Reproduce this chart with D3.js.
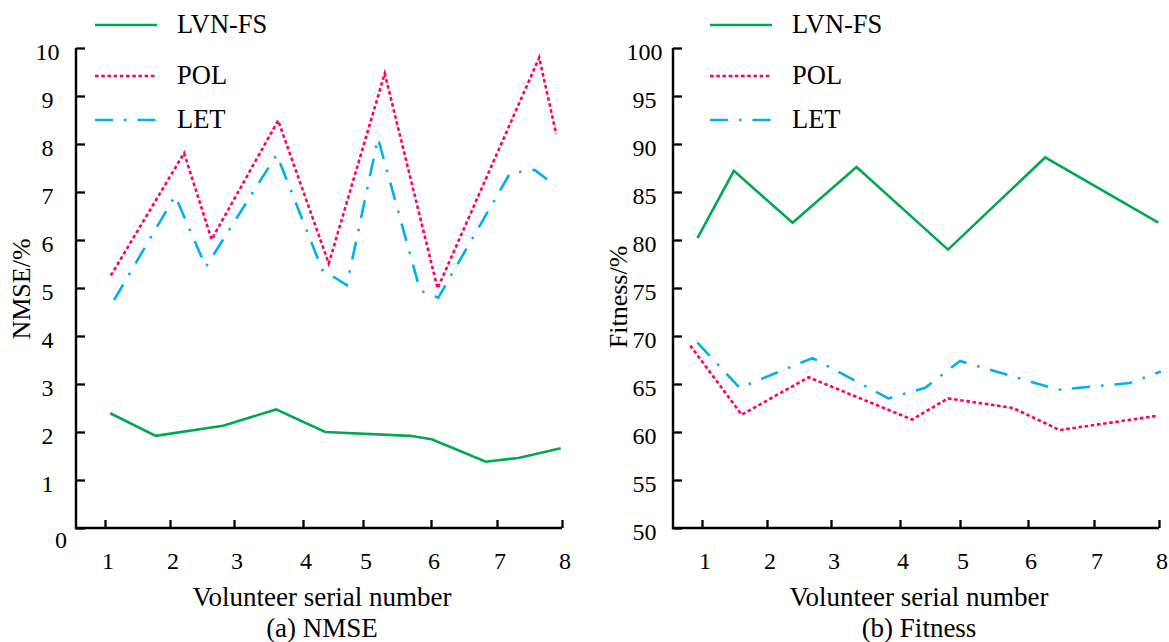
<!DOCTYPE html>
<html>
<head>
<meta charset="utf-8">
<script src="https://cdn.jsdelivr.net/npm/d3@7"></script>
<style>
  html, body { margin: 0; padding: 0; background: #fff; }
  svg { display: block; }
  text { font-family: "Liberation Serif", "Times New Roman", serif; fill: #000; }
</style>
</head>
<body>
<svg id="chart" width="1169" height="642"></svg>
<script>
// ---- data ----
const volunteers = [1, 2, 3, 4, 5, 6, 7, 8];
const nmseTicks = [0, 1, 2, 3, 4, 5, 6, 7, 8, 9, 10];
const fitnessTicks = [50, 55, 60, 65, 70, 75, 80, 85, 90, 95, 100];
const seriesNames = ["LVN-FS", "POL", "LET"];

// (a) NMSE, %
const nmseLvnX = [1.08, 1.78, 2.83, 3.61, 4.37, 5.69, 6.01, 6.83, 7.33, 7.98];
const nmseLvnY = [2.39, 1.92, 2.13, 2.47, 2.00, 1.92, 1.85, 1.38, 1.46, 1.66];
const nmsePolX = [1.09, 2.22, 2.65, 3.64, 4.43, 5.32, 6.10, 7.65, 7.91];
const nmsePolY = [5.26, 7.81, 6.01, 8.49, 5.51, 9.47, 4.99, 9.80, 8.21];
const nmseLetX = [1.14, 2.08, 2.56, 3.62, 4.32, 4.73, 5.22, 5.84, 6.11, 7.20, 7.58, 7.91];
const nmseLetY = [4.75, 6.92, 5.44, 7.78, 5.38, 5.06, 8.12, 4.95, 4.80, 7.39, 7.46, 7.12];

// (b) Fitness, %
const fitLvnX = [0.93, 1.49, 2.40, 3.37, 4.80, 6.26, 7.99];
const fitLvnY = [80.2, 87.2, 81.8, 87.6, 79.0, 88.6, 81.8];
const fitPolX = [0.82, 1.61, 2.65, 4.20, 4.80, 5.78, 6.48, 7.99];
const fitPolY = [69.0, 61.8, 65.7, 61.3, 63.5, 62.5, 60.2, 61.7];
const fitLetX = [0.93, 1.58, 2.71, 3.83, 4.42, 5.00, 6.46, 7.55, 8.03];
const fitLetY = [69.3, 64.6, 67.7, 63.5, 64.6, 67.4, 64.4, 65.1, 66.3];

// ---- styles ----
const styles = {
  "LVN-FS": { color: "#00A84F", dash: null, width: 2.6 },
  "POL":    { color: "#FF0066", dash: "3.6,2.6", width: 2.6 },
  "LET":    { color: "#00B0F0", dash: "18,11,2.5,11", width: 2.6 }
};

const svg = d3.select("#chart");
const font = "Liberation Serif";

// tick offsets along the horizontal axis (the volunteer ticks are not evenly spaced)
const tickOffsets = [29, 94, 158, 227, 287, 355, 421, 486];

function drawPanel(cfg) {
  const ox = cfg.originX, top = 48, bottom = 528, plotW = 486;
  const g = svg.append("g");

  const x = d3.scaleLinear().domain(volunteers).range(tickOffsets.map(o => ox + o));
  const y = d3.scaleLinear().domain([cfg.yTicks[0], cfg.yTicks[cfg.yTicks.length - 1]]).range([bottom, top]);

  // series lines
  const line = d3.line().x(d => x(d[0])).y(d => y(d[1])).curve(d3.curveLinear);
  cfg.series.forEach(s => {
    const st = styles[s.name];
    const pts = s.xs.map((v, i) => [v, s.ys[i]]);
    g.append("path")
      .attr("d", line(pts))
      .attr("fill", "none")
      .attr("stroke", st.color)
      .attr("stroke-width", st.width)
      .attr("stroke-linejoin", "miter")
      .attr("stroke-dasharray", st.dash);
  });

  // y axis (ticks pointing inward)
  const yAxis = d3.axisLeft(y).tickValues(cfg.yTicks).tickSizeInner(-9).tickSizeOuter(0).tickFormat("");
  const ya = g.append("g").attr("transform", `translate(${ox},0)`).call(yAxis);
  ya.select(".domain").remove();
  ya.selectAll(".tick line").attr("stroke", "#000").attr("stroke-width", 2.3);

  // x axis (ticks pointing upward)
  const xAxis = d3.axisBottom(x).tickValues(volunteers).tickSizeInner(-8).tickSizeOuter(0).tickFormat("");
  const xa = g.append("g").attr("transform", `translate(0,${bottom})`).call(xAxis);
  xa.select(".domain").remove();
  xa.selectAll(".tick line").attr("stroke", "#000").attr("stroke-width", 2.3);

  // axis lines
  g.append("path")
    .attr("d", `M${ox},${top}V${bottom}H${ox + plotW}`)
    .attr("fill", "none").attr("stroke", "#000").attr("stroke-width", 2.4)
    .attr("stroke-linejoin", "miter");

  // y tick labels
  cfg.yTicks.forEach(v => {
    const isOriginZero = cfg.zeroShift && v === cfg.yTicks[0];
    g.append("text")
      .attr("x", isOriginZero ? ox - 15 : ox - 28.5)
      .attr("y", y(v) + (isOriginZero ? 12 : 4))
      .attr("dy", "0.35em")
      .attr("text-anchor", "middle")
      .attr("font-size", 24)
      .text(v);
  });

  // x tick labels
  volunteers.forEach(v => {
    g.append("text")
      .attr("x", x(v) + 3)
      .attr("y", 569)
      .attr("text-anchor", "middle")
      .attr("font-size", 24)
      .text(v);
  });

  // axis titles and caption
  const cx = ox + plotW / 2 + 3;
  g.append("text").attr("x", cx).attr("y", 606).attr("text-anchor", "middle")
    .attr("font-size", 27).text("Volunteer serial number");
  g.append("text").attr("x", cx).attr("y", 637).attr("text-anchor", "middle")
    .attr("font-size", 27).text(cfg.caption);
  g.append("text")
    .attr("transform", `translate(${ox - 55},${cfg.yTitleY}) rotate(-90)`)
    .attr("text-anchor", "middle")
    .attr("dy", "0.35em")
    .attr("font-size", 26)
    .text(cfg.yTitle);

  // legend
  const legY = [25, 76, 120];
  const legBase = [33, 84, 128];
  seriesNames.forEach((name, i) => {
    const st = styles[name];
    g.append("line")
      .attr("x1", ox + cfg.legendDX).attr("x2", ox + cfg.legendDX + 62)
      .attr("y1", legY[i]).attr("y2", legY[i])
      .attr("stroke", st.color).attr("stroke-width", st.width)
      .attr("stroke-dasharray", st.dash);
    g.append("text")
      .attr("x", ox + cfg.legendDX + 82).attr("y", legBase[i])
      .attr("font-size", 26.5)
      .text(name);
  });
}

drawPanel({
  originX: 76,
  yTicks: nmseTicks,
  zeroShift: true,
  yTitle: "NMSE/%",
  yTitleY: 289,
  caption: "(a) NMSE",
  legendDX: 19,
  series: [
    { name: "LVN-FS", xs: nmseLvnX, ys: nmseLvnY },
    { name: "POL", xs: nmsePolX, ys: nmsePolY },
    { name: "LET", xs: nmseLetX, ys: nmseLetY }
  ]
});

drawPanel({
  originX: 673,
  yTicks: fitnessTicks,
  zeroShift: false,
  yTitle: "Fitness/%",
  yTitleY: 297,
  caption: "(b) Fitness",
  legendDX: 37,
  series: [
    { name: "LVN-FS", xs: fitLvnX, ys: fitLvnY },
    { name: "POL", xs: fitPolX, ys: fitPolY },
    { name: "LET", xs: fitLetX, ys: fitLetY }
  ]
});
</script>
</body>
</html>
